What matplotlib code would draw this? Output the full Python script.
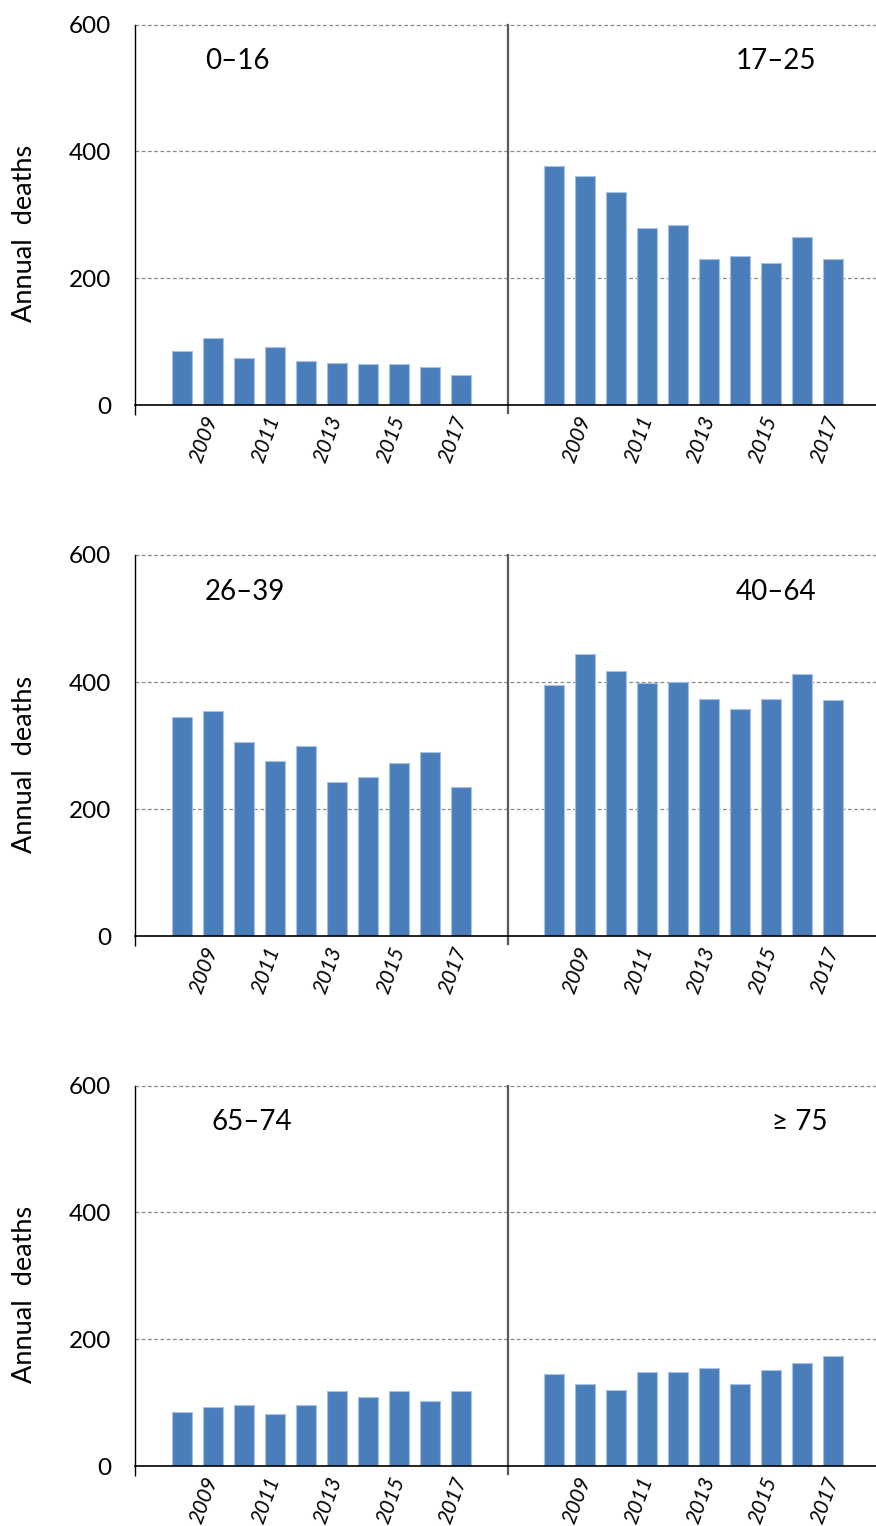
import matplotlib
matplotlib.use("Agg")
import matplotlib.pyplot as plt

plt.rcParams['font.family'] = ['Lato', 'DejaVu Sans']

# Annual deaths by age group, 2008-2017
years = list(range(2008, 2018))
tick_years = [2009, 2011, 2013, 2015, 2017]

age_0_16 = [86, 106, 74, 92, 70, 66, 65, 65, 60, 48]
age_17_25 = [377, 362, 336, 280, 284, 231, 235, 225, 265, 231]
age_26_39 = [345, 355, 305, 276, 300, 243, 251, 272, 290, 235]
age_40_64 = [395, 445, 418, 398, 400, 374, 358, 373, 412, 372]
age_65_74 = [86, 94, 97, 83, 96, 118, 109, 118, 103, 118]
age_75_up = [146, 129, 121, 148, 149, 155, 130, 152, 163, 174]

rows = [
    (("0\u201316", age_0_16), ("17\u201325", age_17_25)),
    (("26\u201339", age_26_39), ("40\u201364", age_40_64)),
    (("65\u201374", age_65_74), ("\u2265 75", age_75_up)),
]

y_ticks = [0, 200, 400, 600]
bar_color = '#4a7ebb'
bar_edge = '#a9c2e2'
grid_color = '#8a8a8a'

W, H = 876, 1526
fig = plt.figure(figsize=(W / 100, H / 100), dpi=100)

# axes geometry in pixels: left edge, width, and (top, bottom) for each row
ax_left, ax_width = 135, 745
row_spans = [(24.5, 405.3), (555.0, 936.3), (1085.5, 1466.3)]
left_label_x = [2.25, 2.25, 2.45]
right_label_x = [21.95, 21.95, 22.3]

n = len(years)
gap = 12  # slots per half of each row

for r, ((lname, lvals), (rname, rvals)) in enumerate(rows):
    top, bot = row_spans[r]
    ax = fig.add_axes([ax_left / W, 1 - bot / H, ax_width / W, (bot - top) / H])
    ax.set_xlim(0, 2 * gap)
    ax.set_ylim(0, 600)

    xl = [1.5 + i for i in range(n)]
    xr = [gap + 1.5 + i for i in range(n)]
    ax.bar(xl, lvals, width=0.645, color=bar_color, edgecolor=bar_edge,
           linewidth=0.8, zorder=3)
    ax.bar(xr, rvals, width=0.645, color=bar_color, edgecolor=bar_edge,
           linewidth=0.8, zorder=3)

    # dashed horizontal gridlines
    for yv in y_ticks[1:]:
        ax.axhline(yv, color=grid_color, lw=0.9, ls=(0, (3, 2)), zorder=1,
                   clip_on=False)

    # divider between the two age groups
    ax.plot([gap, gap], [-12, 600], color='#595959', lw=1.6, zorder=4,
            clip_on=False)

    for s in ['top', 'right']:
        ax.spines[s].set_visible(False)
    ax.spines['left'].set_color('black')
    ax.spines['left'].set_linewidth(1.0)
    ax.spines['bottom'].set_color('black')
    ax.spines['bottom'].set_linewidth(1.2)
    ax.spines['bottom'].set_zorder(5)

    ax.set_yticks(y_ticks)
    ax.set_yticklabels([str(v) for v in y_ticks])
    ax.tick_params(axis='y', length=0, pad=17, labelsize=17.5)

    pos = [xl[years.index(y)] for y in tick_years] + \
          [xr[years.index(y)] for y in tick_years]
    ax.set_xticks(pos)
    ax.set_xticklabels([str(y) for y in tick_years] * 2)
    ax.tick_params(axis='x', length=0, pad=8)
    for lab in ax.get_xticklabels():
        lab.set_rotation(70)
        lab.set_rotation_mode('anchor')
        lab.set_ha('right')
        lab.set_va('center')
        lab.set_fontstyle('italic')
        lab.set_fontsize(15)
    ax.set_xticks([0], minor=True)
    ax.tick_params(axis='x', which='minor', length=7, width=1.0,
                   color='black', direction='out')

    ax.text(left_label_x[r], 542, lname, fontsize=20, ha='left', va='center')
    ax.text(right_label_x[r], 542, rname, fontsize=20, ha='right', va='center')

    # y-axis title for the row
    yc = (top + bot) / 2 + 19
    fig.text(25 / W, 1 - yc / H, "Annual  deaths", rotation=90, fontsize=19.5,
             ha='center', va='center')

fig.savefig("out.png", dpi=100, facecolor='white')
